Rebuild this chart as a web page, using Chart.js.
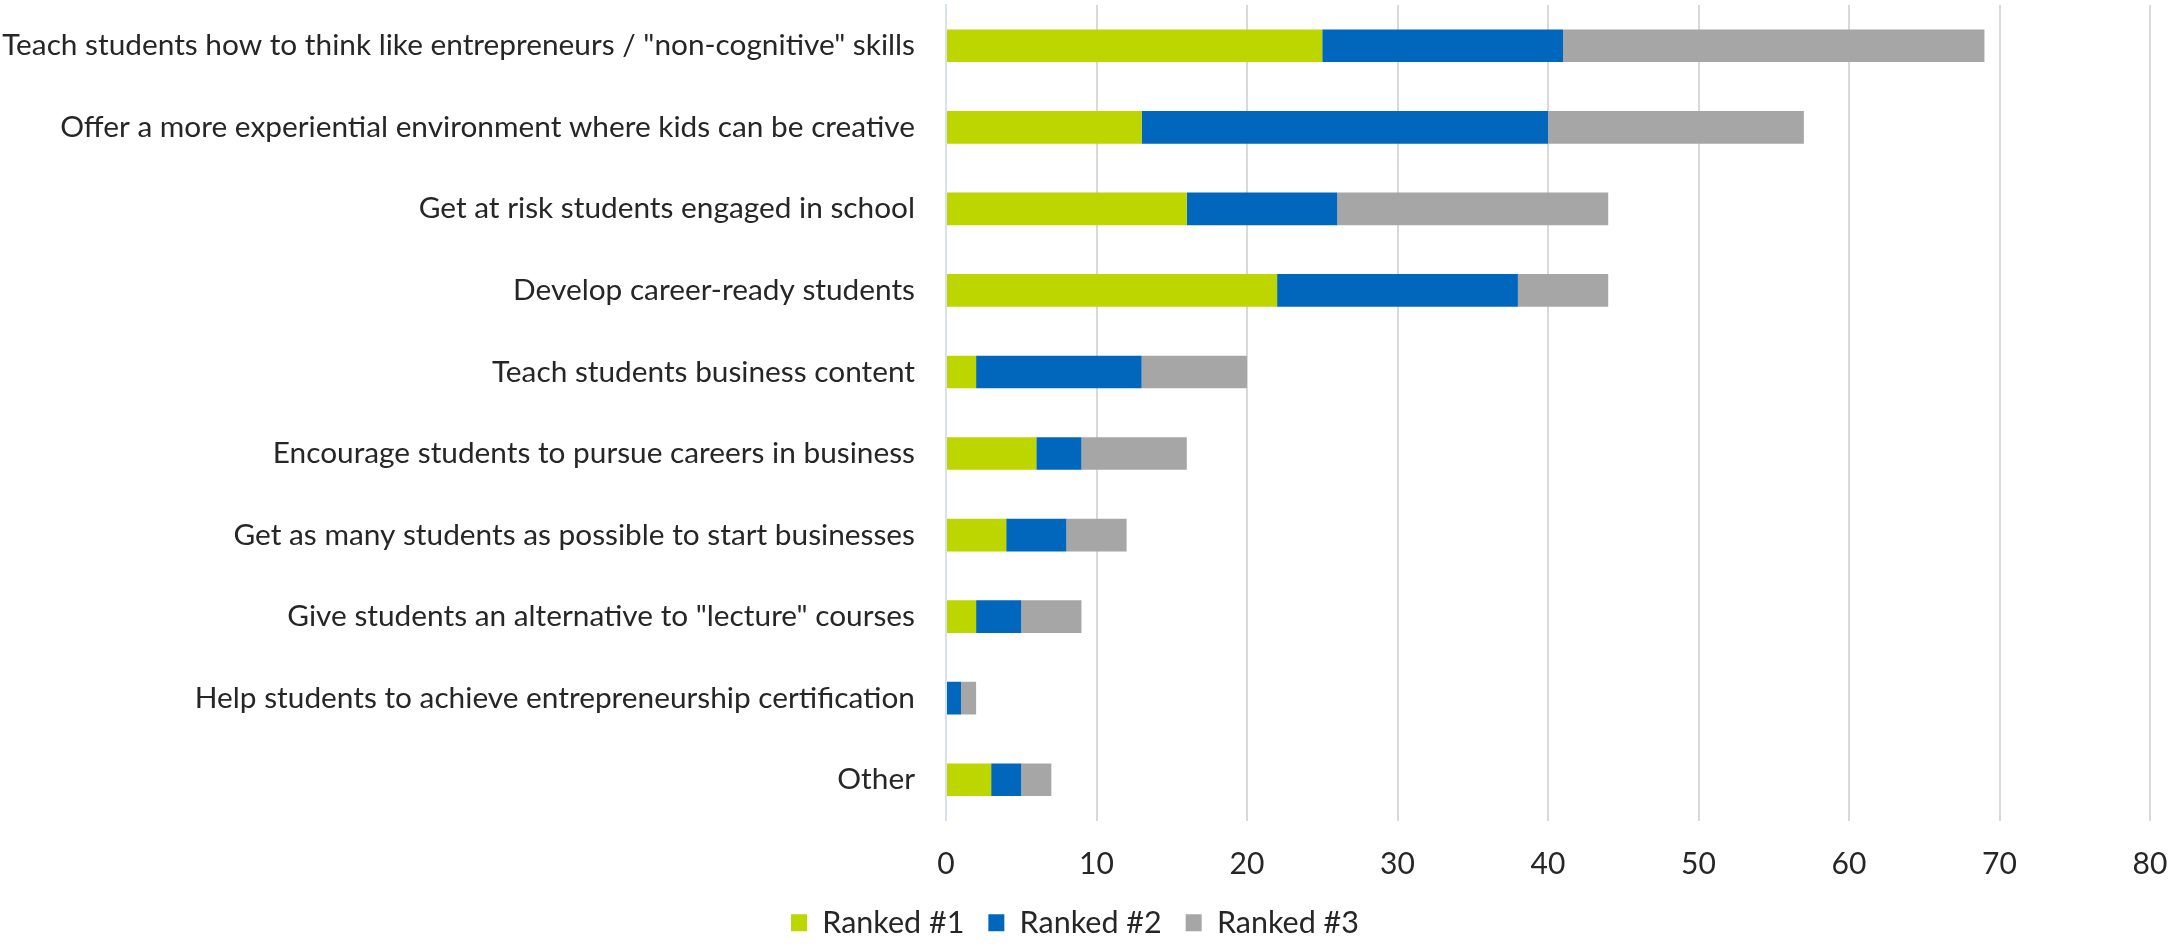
<!DOCTYPE html>
<html><head><meta charset="utf-8">
<script src="https://cdn.jsdelivr.net/npm/chart.js@4/dist/chart.umd.min.js"></script>
<style>html,body{margin:0;padding:0;background:#fff}#wrap{width:2177px;height:944px;position:relative}</style>
</head><body><div id="wrap"><canvas id="c" width="2177" height="944"></canvas></div>
<script>
const categories = [
  'Teach students how to think like entrepreneurs / "non-cognitive" skills',
  'Offer a more experiential environment where kids can be creative',
  'Get at risk students engaged in school',
  'Develop career-ready students',
  'Teach students business content',
  'Encourage students to pursue careers in business',
  'Get as many students as possible to start businesses',
  'Give students an alternative to "lecture" courses',
  'Help students to achieve entrepreneurship certification',
  'Other'
];
const seriesNames = ['Ranked #1', 'Ranked #2', 'Ranked #3'];
const ranked1 = [25, 13, 16, 22, 2, 6, 4, 2, 0, 3];
const ranked2 = [16, 27, 10, 16, 11, 3, 4, 3, 1, 2];
const ranked3 = [28, 17, 18, 6, 7, 7, 4, 4, 1, 2];
const xTicks = [0, 10, 20, 30, 40, 50, 60, 70, 80];

const FONT = "Lato, 'Open Sans', sans-serif";
const colors = ['#bed600', '#0067bd', '#a6a6a6'];
const data = {
  labels: categories,
  datasets: [ranked1, ranked2, ranked3].map((d, i) => ({
    label: seriesNames[i], data: d, backgroundColor: colors[i],
    categoryPercentage: 1, barPercentage: 0.4, borderWidth: 0
  }))
};
new Chart(document.getElementById('c'), {
  type: 'bar',
  data,
  options: {
    indexAxis: 'y', responsive: false, animation: false,
    layout: { padding: { top: 5, right: 27, bottom: -4, left: 0 } },
    plugins: {
      tooltip: { enabled: false },
      legend: {
        position: 'bottom',
        labels: { font: { family: FONT, size: 30.5 }, color: '#262626', boxWidth: 16, boxHeight: 17, padding: 24 }
      }
    },
    scales: {
      y: {
        stacked: true,
        afterFit: s => { s.width = 946; s.paddingTop = 0; s.paddingBottom = 0; },
        grid: { display: false, drawTicks: false },
        border: { color: '#d6e2ef', width: 2 },
        ticks: { font: { family: FONT, size: 29.8 }, color: '#262626', padding: 31 }
      },
      x: {
        stacked: true, min: 0, max: 80,
        afterBuildTicks: s => { s.ticks = xTicks.map(v => ({ value: v })); },
        afterFit: s => { s.height = 63; s.paddingLeft = 0; s.paddingRight = 0; },
        grid: { color: '#d9d9d9', lineWidth: 2, drawTicks: false },
        border: { display: false },
        ticks: { font: { family: FONT, size: 30 }, color: '#262626', padding: 26 }
      }
    }
  }
});
</script></body></html>
